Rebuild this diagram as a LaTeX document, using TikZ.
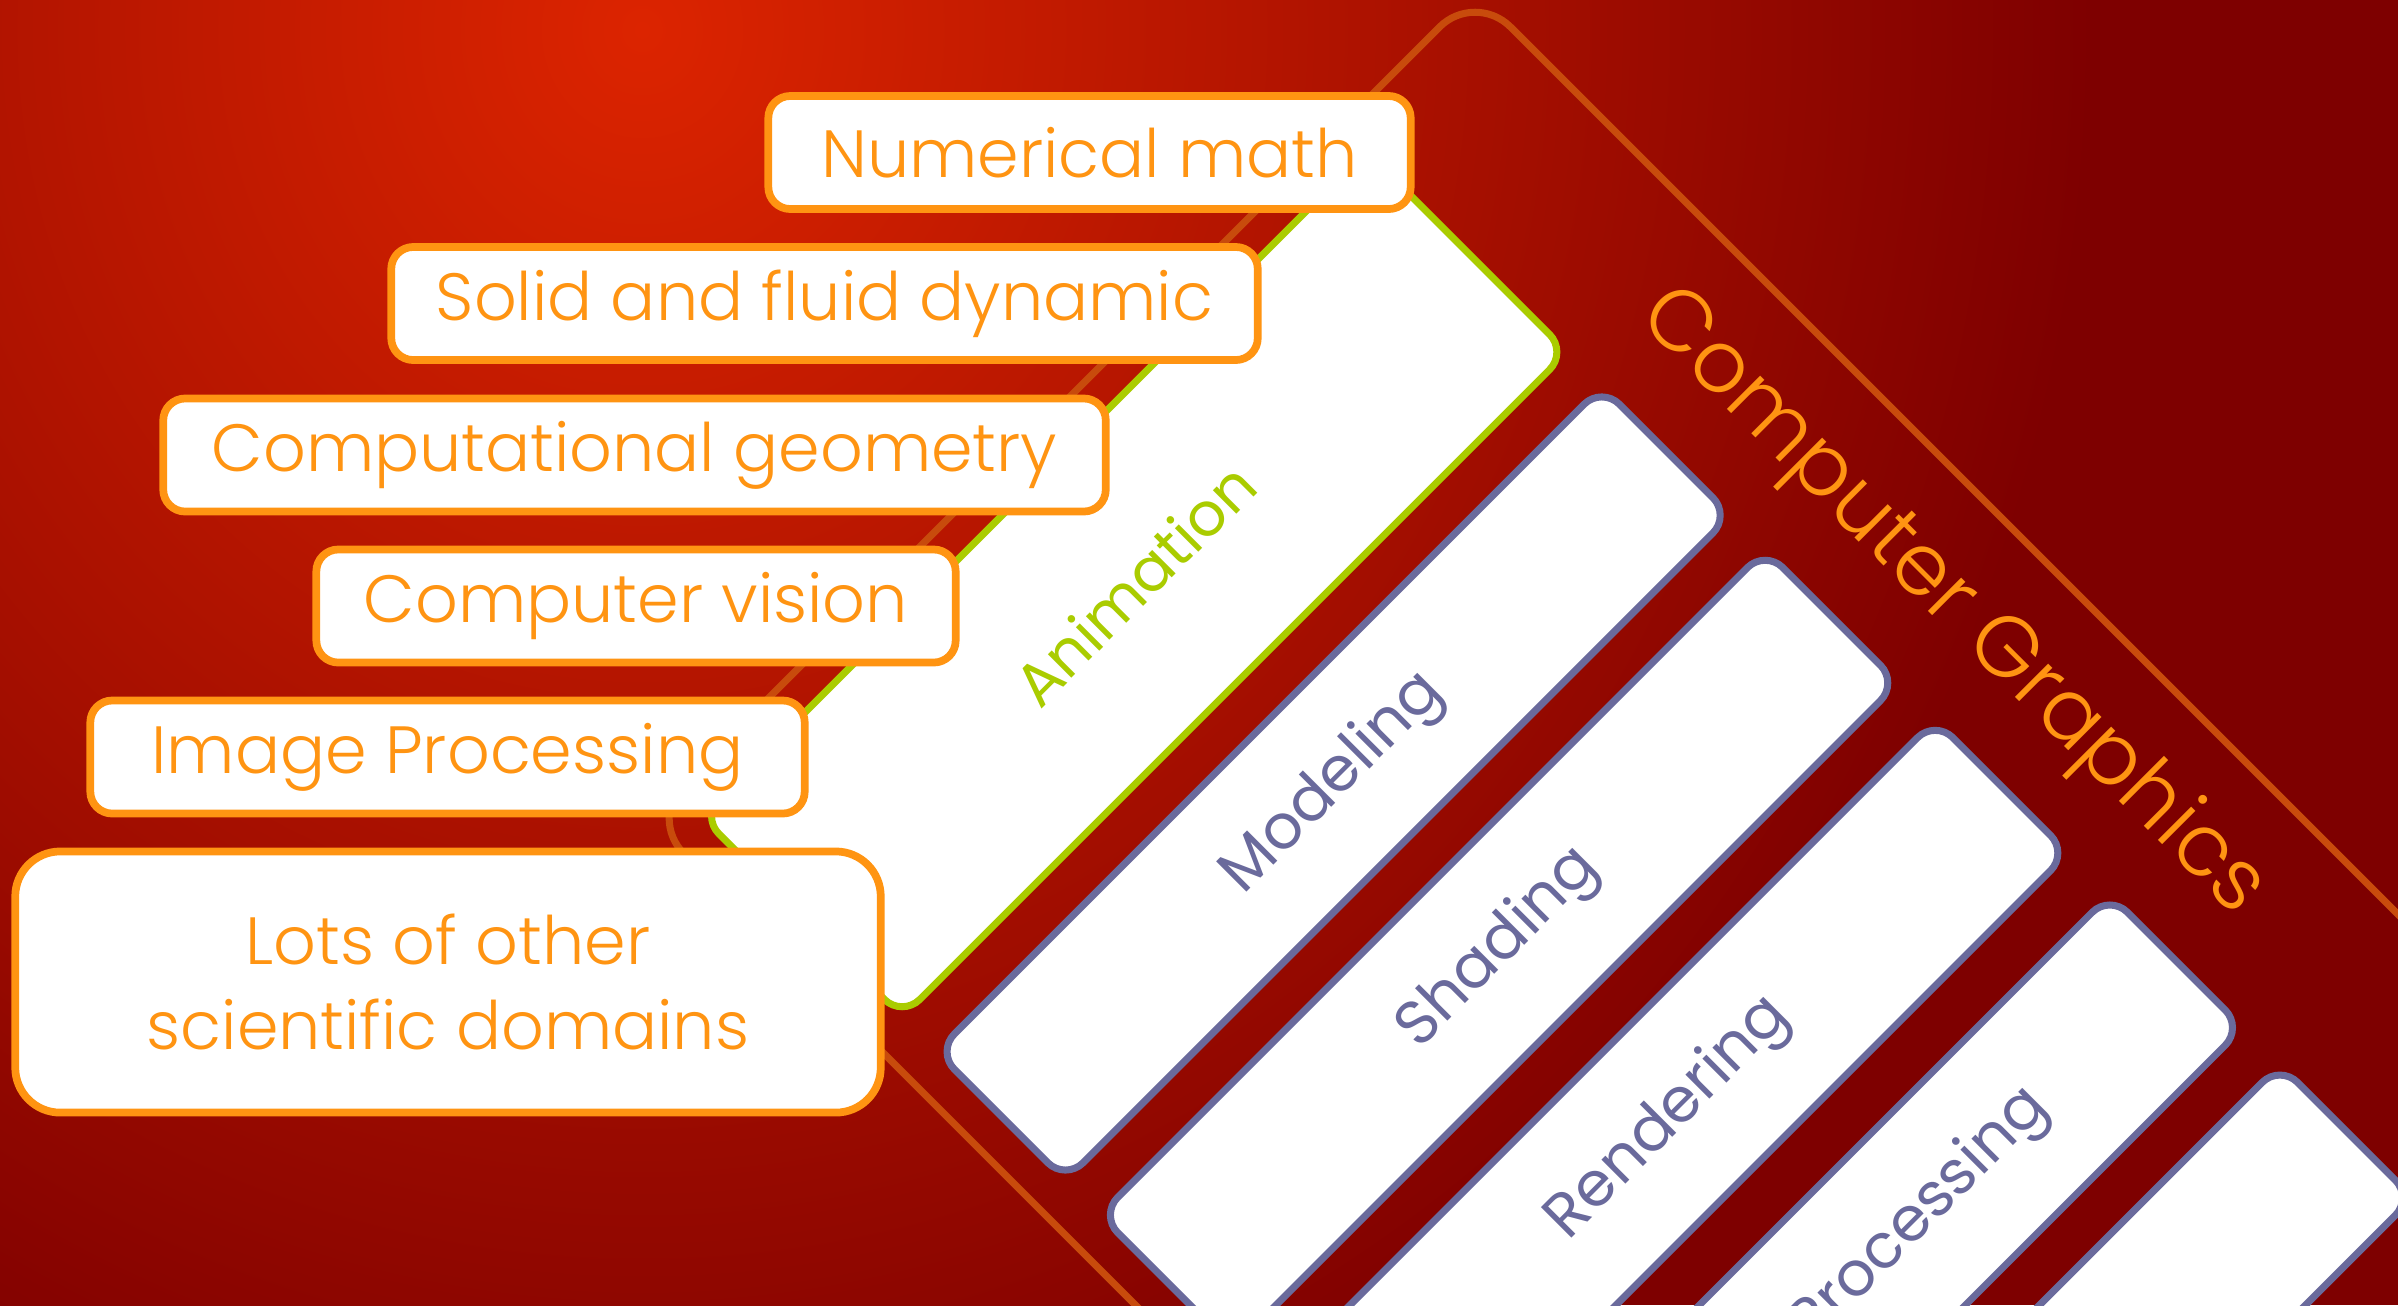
\documentclass[tikz,border=0pt]{standalone}
\usepackage{fontspec}
\setmainfont{Poppins}[UprightFont=* Light]
\newfontfamily\stagefont{Poppins}
\usetikzlibrary{positioning}
\definecolor{glow}{HTML}{DC2400}
\definecolor{wine}{HTML}{7E0000}
\definecolor{tangerine}{HTML}{FF9412}
\definecolor{lime}{HTML}{AACC00}
\definecolor{slate}{HTML}{6A6A9C}
\definecolor{rust}{HTML}{C84B0C}
\tikzset{
  sidebox/.style={draw=tangerine, line width=2.2pt, rounded corners=0.22cm,
                  fill=white, text=tangerine, minimum height=1.13cm,
                  inner sep=0pt, align=center,
                  font=\fontsize{19}{24}\selectfont},
  stagebox/.style={draw=slate, line width=2pt, rounded corners=0.25cm,
                   fill=white, text=slate, minimum width=9.40cm,
                   minimum height=1.88cm, inner sep=0pt,
                   font=\stagefont\fontsize{17.6}{24}\selectfont},
  animbox/.style={stagebox, draw=lime, text=lime, minimum height=2.84cm,
                  font=\stagefont\fontsize{17.2}{24}\selectfont},
  frameline/.style={draw=rust, line width=2pt, rounded corners=0.5cm}
}
\begin{document}
\begin{tikzpicture}[x=0.01cm, y=-0.01cm]
  \useasboundingbox (0,0) rectangle (2398,1305);
  \clip (0,0) rectangle (2398,1305);
  % background glow
  \fill[wine] (0,0) rectangle (2398,1305);
  \shade[inner color=glow, outer color=wine]
    (642,30) ellipse [x radius=14.5cm, y radius=15.5cm];

  % tilted part: local coordinates run along and across the bands
  \begin{scope}[rotate=45, transform shape]
    \draw[frameline] (-120,4000) -- (-120,1037) -- (1049,1037) -- (1049,4000);
    \node[text=tangerine, rotate=-90, font=\fontsize{24.5}{28}\selectfont]
      (cg) at (953,1806) {Computer Graphics};

    \node[stagebox, minimum height=1.82cm] (modeling) at (389,1497) {Modeling};
    \node[stagebox] (shading) at (389,1731) {Shading};
    \node[stagebox] (rendering) at (389,1971.5) {Rendering};
    \node[stagebox] (imgproc2) at (389,2218.5) {Image Processing};
    \node[stagebox] (fifth) at (389,2459) {};

    \node[animbox] (anim) at (389,1215) {Animation};
  \end{scope}

  % neighbouring fields
  \node[sidebox, minimum width=6.42cm] (nummath) at (1089.5,152.5) {Numerical math};
  \node[sidebox, minimum width=8.66cm] (fluid) at (824.5,303.5) {Solid and fluid dynamic};
  \node[sidebox, minimum width=9.42cm] (compgeo) at (634.5,455) {Computational geometry};
  \node[sidebox, minimum width=6.39cm] (vision) at (636,606) {Computer vision};
  \node[sidebox, minimum width=7.14cm] (imgproc) at (447.5,757) {Image Processing};
  \node[sidebox, minimum width=8.65cm, minimum height=2.61cm,
        rounded corners=0.45cm] (lots) at (448,982) {Lots of other\\scientific domains};
\end{tikzpicture}
\end{document}
